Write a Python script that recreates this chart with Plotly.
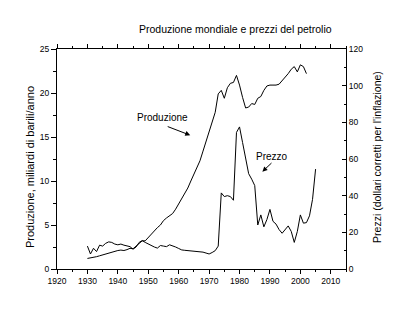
import plotly.graph_objects as go

# World oil production (billion barrels / year)
prod_years = list(range(1930, 2003))
production = [
    1.2, 1.25, 1.3, 1.4, 1.5, 1.6, 1.7, 1.85, 1.9, 2.0,
    2.1, 2.15, 2.1, 2.2, 2.35, 2.3, 2.6, 3.0, 3.2, 3.2,
    3.6, 4.0, 4.3, 4.7, 5.0, 5.5, 5.8, 6.1, 6.3, 6.8,
    7.4, 7.9, 8.5, 9.2, 10.0, 10.8, 11.6, 12.3, 13.4, 14.5,
    15.6, 16.6, 17.8, 19.9, 20.3, 19.4, 20.6, 21.1, 21.2, 22.0,
    20.9, 19.5, 18.3, 18.4, 18.8, 18.7, 19.4, 19.6, 20.3, 20.8,
    20.9, 20.9, 20.9, 21.0, 21.4, 21.7, 22.2, 22.7, 23.0, 22.4,
    23.2, 23.0, 22.2,
]

# Oil price (inflation-adjusted dollars)
price_years = list(range(1930, 2006))
price = [
    12.5, 8.2, 11.3, 9.5, 13.0, 12.5, 14.0, 14.8, 14.5, 13.6,
    13.2, 13.6, 13.0, 12.6, 12.2, 10.8, 12.0, 14.5, 15.5, 14.5,
    13.6, 12.5, 12.0, 11.4, 12.8, 12.5, 12.2, 13.2, 12.8, 12.0,
    11.2, 10.4, 10.2, 10.1, 10.0, 9.9, 9.8, 9.6, 9.2, 8.7,
    8.2, 9.0, 10.0, 12.5, 41.5, 39.5, 40.0, 39.5, 37.5, 74.5,
    77.5, 69.0, 60.0, 52.0, 49.0, 45.5, 24.0, 29.5, 23.0, 27.0,
    32.5, 26.0, 24.5, 21.5, 19.5, 21.5, 23.5, 20.5, 14.5, 20.5,
    29.5, 25.0, 25.3, 29.0, 38.0, 54.5,
]

x_ticks = list(range(1920, 2011, 10))
title_text = "Produzione mondiale e prezzi del petrolio"
left_title = "Produzione, miliardi di barili/anno"
right_title = "Prezzi (dollari corretti per l'inflazione)"

FONT = "Liberation Sans, Arial, sans-serif"

fig = go.Figure()
fig.add_trace(go.Scatter(x=prod_years, y=production, mode="lines",
                         line=dict(color="black", width=1), yaxis="y"))
fig.add_trace(go.Scatter(x=price_years, y=price, mode="lines",
                         line=dict(color="black", width=1), yaxis="y2"))

fig.update_layout(
    width=404, height=325,
    margin=dict(l=57, r=58, t=49, b=56),
    paper_bgcolor="white", plot_bgcolor="white",
    showlegend=False,
    font=dict(family=FONT, size=8.5, color="black"),
    xaxis=dict(
        range=[1920, 2015], tickvals=x_ticks,
        showgrid=False, zeroline=False,
        showline=True, linecolor="black", linewidth=1, mirror="ticks",
        ticks="outside", ticklen=4, tickcolor="black", tickwidth=1,
        minor=dict(dtick=5, tick0=1920, ticks="outside", ticklen=2,
                   tickcolor="black", showgrid=False),
    ),
    yaxis=dict(
        range=[0, 25], dtick=5,
        showgrid=False, zeroline=False,
        showline=True, linecolor="black", linewidth=1,
        ticks="outside", ticklen=5, tickcolor="black", tickwidth=1,
        minor=dict(dtick=2.5, ticks="outside", ticklen=3,
                   tickcolor="black", showgrid=False),
    ),
    yaxis2=dict(
        range=[0, 120], dtick=20, overlaying="y", side="right",
        showgrid=False, zeroline=False,
        showline=True, linecolor="black", linewidth=1,
        ticks="inside", ticklen=4, tickcolor="black", tickwidth=1,
        minor=dict(dtick=10, ticks="inside", ticklen=2,
                   tickcolor="black", showgrid=False),
    ),
)

annotations = [
    dict(text=title_text, xref="paper", yref="paper", x=0.616, y=1.091,
         xanchor="center", yanchor="middle", showarrow=False,
         font=dict(size=10.5)),
    dict(text=left_title, xref="paper", yref="paper", x=-0.0934, y=0.4636,
         xanchor="center", yanchor="middle", textangle=-90, showarrow=False,
         font=dict(size=11)),
    dict(text=right_title, xref="paper", yref="paper", x=1.107, y=0.509,
         xanchor="center", yanchor="middle", textangle=-90, showarrow=False,
         font=dict(size=10.5)),
    dict(text="Produzione", xref="x", yref="y", x=1954.7, y=17.27,
         xanchor="center", yanchor="middle", showarrow=False,
         font=dict(size=10)),
    dict(text="Prezzo", xref="x", yref="y", x=1990.6, y=12.76,
         xanchor="center", yanchor="middle", showarrow=False,
         font=dict(size=10)),
    # arrows pointing at the two curves
    dict(text="", xref="x", yref="y", axref="x", ayref="y",
         x=1963.8, y=15.2, ax=1955.9, ay=16.25,
         showarrow=True, arrowhead=2, arrowsize=1, arrowwidth=1,
         arrowcolor="black"),
    dict(text="", xref="x", yref="y", axref="x", ayref="y",
         x=1987.5, y=11.06, ax=1991.0, ay=12.2,
         showarrow=True, arrowhead=2, arrowsize=1, arrowwidth=1,
         arrowcolor="black"),
]
fig.update_layout(annotations=annotations)

fig.write_html("out.html")
